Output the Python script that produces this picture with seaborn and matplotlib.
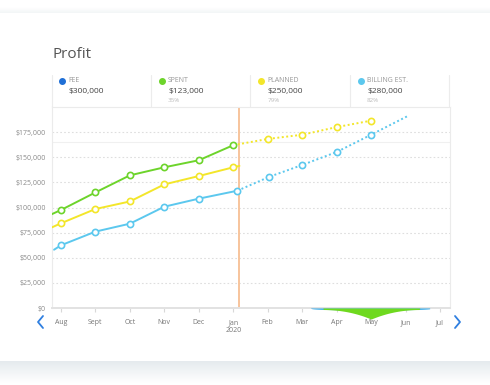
import numpy as np
import matplotlib
matplotlib.use("Agg")
import matplotlib.pyplot as plt
from matplotlib.lines import Line2D
import seaborn as sns

# data
months = ["Aug", "Sept", "Oct", "Nov", "Dec", "Jan", "Feb", "Mar", "Apr", "May", "Jun", "Jul"]

spent_x = [-1, 0, 1, 2, 3, 4, 5]
spent = [82000, 97500, 115000, 132000, 140000, 147000, 162000]

planned_x = [-1, 0, 1, 2, 3, 4, 5, 5.18]
planned = [68800, 84300, 98500, 106000, 123000, 131300, 140000, 141400]
planned_fc_x = [5, 6, 7, 8, 9]
planned_fc = [162000, 168200, 172400, 180000, 186400]

billing_x = [-0.2, 0, 1, 2, 3, 4, 5.12]
billing = [58000, 62400, 76000, 83900, 100800, 108800, 116700]
billing_fc_x = [5.12, 6.05, 7, 8, 9, 10.08]
billing_fc = [116700, 130600, 142300, 155200, 172400, 191300]

today_x = 5.18

legend_names = ["FEE", "SPENT", "PLANNED", "BILLING EST."]
legend_values = ["$300,000", "$123,000", "$250,000", "$280,000"]
legend_pcts = ["", "35%", "79%", "82%"]

GREEN = "#6dd42b"
YELLOW = "#f3e62a"
BLUE = "#5cc8ee"
FEE_BLUE = "#1f6fd6"
legend_colors = [FEE_BLUE, GREEN, YELLOW, BLUE]

sns.set_theme(style="white")
plt.rcParams["font.family"] = ["Open Sans", "DejaVu Sans"]

W, H = 490, 385
fig = plt.figure(figsize=(W / 100, H / 100), dpi=100)
fig.patch.set_facecolor("white")

def fx(px):
    return px / W

def fy(py):
    return 1 - py / H

# card shadow bands
sh = fig.add_axes([0, fy(383), 1, (383 - 361) / H], zorder=0)
grad = np.linspace(0, 1, 50).reshape(-1, 1)
sh.imshow(grad, aspect="auto", cmap=matplotlib.colors.LinearSegmentedColormap.from_list(
    "s", ["#e5eaee", "#ffffff"]), extent=[0, 1, 0, 1], origin="upper")
sh.axis("off")
sh2 = fig.add_axes([0, fy(13), 1, 6 / H], zorder=0)
sh2.imshow(grad[::-1], aspect="auto", cmap=matplotlib.colors.LinearSegmentedColormap.from_list(
    "s2", ["#f3f6f7", "#ffffff"]), extent=[0, 1, 0, 1], origin="upper")
sh2.axis("off")

ax = fig.add_axes([fx(52), fy(308), (450 - 52) / W, (308 - 107) / H], zorder=2)
ax.set_facecolor("white")

# grid
for v in range(25000, 200000, 25000):
    ax.axhline(v, color="#dedede", lw=0.8, ls=(0, (1.5, 2)), zorder=0)
ax.axhline(165000, color="#f0f0f0", lw=0.8, zorder=0)

# today line
ax.axvline(today_x, color="#f7c49c", lw=1.4, zorder=1)

# solid lines
sns.lineplot(x=spent_x, y=spent, ax=ax, color=GREEN, lw=1.4, sort=False, zorder=3)
sns.lineplot(x=planned_x, y=planned, ax=ax, color=YELLOW, lw=1.4, sort=False, zorder=3)
sns.lineplot(x=billing_x, y=billing, ax=ax, color=BLUE, lw=1.4, sort=False, zorder=3)

# forecasts
sns.lineplot(x=planned_fc_x, y=planned_fc, ax=ax, color=YELLOW, lw=1.4, sort=False,
             ls=(0, (1, 1.3)), zorder=3)
sns.lineplot(x=billing_fc_x, y=billing_fc, ax=ax, color=BLUE, lw=1.4, sort=False,
             ls=(0, (1, 1.3)), zorder=3)

# markers
mk = dict(s=20, facecolor="white", linewidth=1.2, zorder=4, ax=ax)
sns.scatterplot(x=spent_x[1:], y=spent[1:], edgecolor=GREEN, **mk)
sns.scatterplot(x=planned_x[1:-1], y=planned[1:-1], edgecolor=YELLOW, **mk)
sns.scatterplot(x=planned_fc_x[1:], y=planned_fc[1:], edgecolor=YELLOW, **mk)
sns.scatterplot(x=billing_x[1:], y=billing[1:], edgecolor=BLUE, **mk)
sns.scatterplot(x=billing_fc_x[1:-1], y=billing_fc[1:-1], edgecolor=BLUE, **mk)

ax.set_xlim(-0.26, 11.29)
ax.set_ylim(0, 200000)
ax.set_yticks(range(0, 200000, 25000))
ax.set_yticklabels([f"${v:,}" for v in range(0, 200000, 25000)])
ax.set_xticks(range(len(months)))
ax.set_xticklabels(months)
ax.tick_params(axis="y", length=0, pad=4.5, labelsize=5, labelcolor="#8a8a8a")
ax.tick_params(axis="x", length=3, width=0.8, color="#d8d8d8", pad=5,
               labelsize=5, labelcolor="#777777", bottom=True)
for s in ["left", "right", "top"]:
    ax.spines[s].set_color("#ebebeb")
    ax.spines[s].set_linewidth(0.8)
ax.spines["bottom"].set_color("#e2e2e2")
ax.spines["bottom"].set_linewidth(1.4)
ax.set_xlabel("")
ax.set_ylabel("")
ax.text(5, -0.113, "2020", transform=ax.get_xaxis_transform(), ha="center", va="center",
        fontsize=5, color="#777777")

# navigator wedge under the axis
xs = np.linspace(7.2, 10.7, 200)
blue_d = 2200 * np.clip(1 - np.abs(xs - 9) / 1.75, 0, 1) ** 0.3
ax.fill_between(xs, 0, -blue_d, color="#2ea6e6", lw=0, clip_on=False, zorder=5)
xg = np.linspace(7.6, 10.5, 200)
green_d = 9500 * np.clip(1 - np.abs(xg - 9) / 1.45, 0, 1) ** 2.2 + 1500 * (np.abs(xg - 9) < 1.4)
ax.fill_between(xg, 0, -green_d, color="#6fd91f", lw=0, clip_on=False, zorder=6)

# title
fig.text(fx(52), fy(54), "Profit", fontsize=11, color="#555555", ha="left", va="center")

# legend header
for bx in [52, 151, 250, 350, 449]:
    fig.add_artist(Line2D([fx(bx), fx(bx)], [fy(75), fy(107)], color="#ececec", lw=0.8))
for i, name in enumerate(legend_names):
    x0 = 62 + 99.5 * i
    fig.add_artist(Line2D([fx(x0)], [fy(81)], marker="o", ms=4, color=legend_colors[i], lw=0))
    fig.text(fx(x0 + 6), fy(81), name, fontsize=5, color="#999999", ha="left", va="center")
    fig.text(fx(x0 + 6.5), fy(91), legend_values[i], fontsize=6, color="#444444", ha="left", va="center")
    if legend_pcts[i]:
        fig.text(fx(x0 + 6.5), fy(100.5), legend_pcts[i], fontsize=4.5, color="#bbbbbb",
                 ha="left", va="center")

# nav chevrons
fig.add_artist(Line2D([fx(43), fx(38), fx(43)], [fy(316), fy(322), fy(328)],
                      color="#2f7fe0", lw=1.3, solid_capstyle="round"))
fig.add_artist(Line2D([fx(455), fx(460), fx(455)], [fy(316), fy(322), fy(328)],
                      color="#2f7fe0", lw=1.3, solid_capstyle="round"))

fig.savefig("out.png", dpi=100, facecolor="white")
